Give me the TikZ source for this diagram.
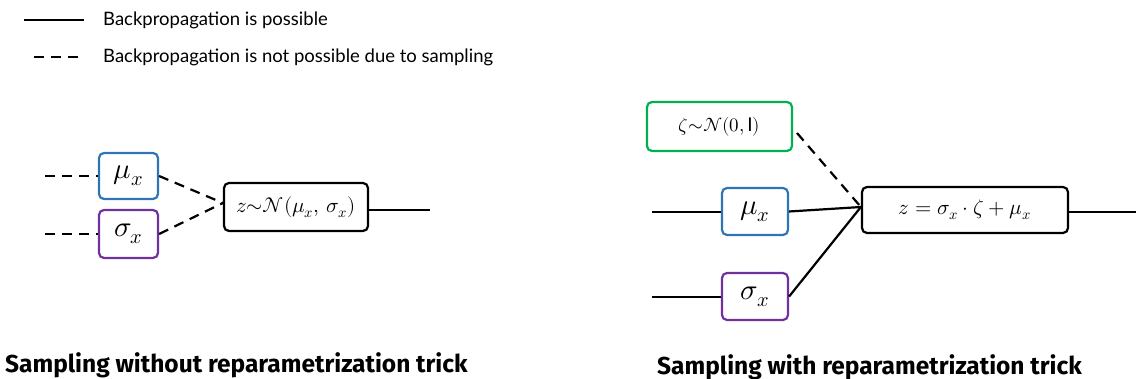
\documentclass[tikz,border=0pt]{standalone}
\usepackage{fontspec}
\setmainfont{Lato}
\newfontfamily\titlefont{Fira Sans}
\usepackage{amsmath}
\usepackage{unicode-math}
\setmathfont{Latin Modern Math}
\definecolor{boxblue}{RGB}{46,117,182}
\definecolor{boxpurple}{RGB}{112,48,160}
\definecolor{boxgreen}{RGB}{0,176,80}
\begin{document}
\begin{tikzpicture}[x=1pt,y=-1pt,
  varbox/.style={draw, line width=2.2pt, rounded corners=5pt, inner sep=0pt, align=center},
  link/.style={line width=2.2pt},
  nolink/.style={line width=2.2pt, dash pattern=on 10pt off 7pt},
  legendtext/.style={anchor=west, font=\fontsize{18.5}{21}\selectfont, inner sep=0pt},
  caption/.style={anchor=west, font=\titlefont\bfseries\fontsize{24.5}{28}\selectfont, inner sep=0pt}]
\useasboundingbox (0,0) rectangle (1136,379);

% legend
\coordinate (la1) at (24,20);
\coordinate (lb1) at (84,20);
\coordinate (la2) at (34,57);
\coordinate (lb2) at (84,57);
\draw[link] (la1) -- (lb1);
\draw[nolink] (la2) -- (lb2);
\node[legendtext] (lt1) at (103,20) {Backpropagation is possible};
\node[legendtext] (lt2) at (103,57) {Backpropagation is not possible due to sampling};

% sampling without the trick
\node[varbox, draw=boxblue, minimum width=59pt, minimum height=46pt] (mu1) at (128.5,176) {\fontsize{29}{32}\selectfont$\mu_x$};
\node[varbox, draw=boxpurple, minimum width=59pt, minimum height=48pt] (sg1) at (128.5,234) {\fontsize{29}{32}\selectfont$\sigma_x$};
\node[varbox, minimum width=144pt, minimum height=48pt] (z1) at (296,207) {\fontsize{21}{24}\selectfont$z{\sim}\mathcal{N}(\mu_x,\,\sigma_x)$};
\coordinate (in1a) at (45,176);
\coordinate (in1b) at (45,234);
\coordinate (out1) at (430,210);
\draw[nolink] (in1a) -- (mu1.west);
\draw[nolink] (in1b) -- (sg1.west);
\draw[nolink] (mu1.east) -- ([yshift=4pt]z1.west);
\draw[nolink] (sg1.east) -- ([yshift=4pt]z1.west);
\draw[link] (z1.east |- out1) -- (out1);
\node[caption] (c1) at (5,365) {Sampling without reparametrization trick};

% sampling with the trick
\node[varbox, draw=boxgreen, minimum width=145pt, minimum height=49pt] (zeta) at (719.5,126.5) {\fontsize{19}{22}\selectfont$\zeta{\sim}\mathcal{N}(0,\mathrm{I})$};
\node[varbox, draw=boxblue, minimum width=66pt, minimum height=47pt] (mu2) at (755,211.5) {\fontsize{29}{32}\selectfont$\mu_x$};
\node[varbox, draw=boxpurple, minimum width=66pt, minimum height=47pt] (sg2) at (755,296.5) {\fontsize{29}{32}\selectfont$\sigma_x$};
\node[varbox, minimum width=206pt, minimum height=46pt] (z2) at (965,210) {\fontsize{21}{24}\selectfont$z=\sigma_x\cdot\zeta+\mu_x$};
\coordinate (in2a) at (652,212);
\coordinate (in2b) at (652,297);
\coordinate (out2) at (1136,212);
\coordinate (zs) at (797,133);
\draw[link] (in2a) -- (in2a -| mu2.west);
\draw[link] (in2b) -- (in2b -| sg2.west);
\draw[nolink] (zs) -- ([yshift=3pt]z2.west);
\draw[link] (mu2.east) -- ([yshift=3pt]z2.west);
\draw[link] (sg2.east) -- ([yshift=3pt]z2.west);
\draw[link] (z2.east |- out2) -- (out2);
\node[caption] (c2) at (657,367) {Sampling with reparametrization trick};
\end{tikzpicture}
\end{document}
